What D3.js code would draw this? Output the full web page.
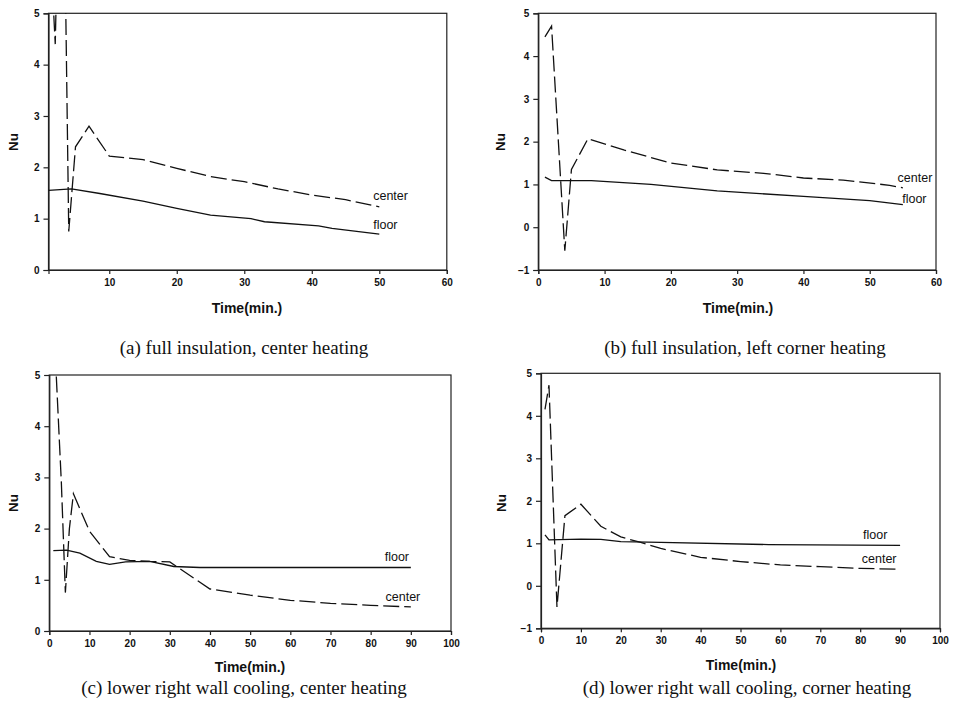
<!DOCTYPE html>
<html>
<head>
<meta charset="utf-8">
<script src="https://cdn.jsdelivr.net/npm/d3@7"></script>
<style>
    body { margin: 0; background: #fff; }
    svg { display: block; }
    .tick text { font-family: "Liberation Sans", Arial, sans-serif; font-weight: bold; font-size: 10px; fill: #111; }
    .tick line, .domain { stroke: #222; stroke-width: 1.2; }
</style>
</head>
<body>
<svg id="chart" width="954" height="710"></svg>
<script>
'use strict';

// (a) full insulation, center heating  -- [time(min), Nu]
const aFloor  = [[1,1.55],[4.4,1.58],[8.6,1.49],[15,1.34],[20,1.2],[25,1.07],[31,1.0],[33,0.94],[41,0.86],[43,0.81],[50,0.7]];
const aCenter = [[1,7],[2,4.4],[3,10.5],[4,0.75],[5,2.4],[7,2.8],[10,2.22],[15,2.15],[20,1.98],[25,1.82],[30,1.72],[35,1.58],[40,1.46],[45,1.37],[50,1.23]];

// (b) full insulation, left corner heating
const bFloor  = [[1,1.17],[2,1.09],[8,1.09],[17,1.0],[27,0.85],[40,0.72],[50,0.62],[55,0.53]];
const bCenter = [[1,4.45],[2,4.7],[4,-0.55],[5,1.35],[7.5,2.07],[13,1.8],[20,1.5],[27,1.34],[34,1.26],[40,1.15],[46,1.1],[53,0.98],[55,0.92]];

// (c) lower right wall cooling, center heating
const cFloor  = [[1,1.57],[4.3,1.58],[7.6,1.52],[11.7,1.36],[15,1.3],[19,1.35],[25,1.36],[31,1.26],[37.5,1.24],[90,1.24]];
const cCenter = [[1,6.2],[3,2.9],[4,0.75],[5,2.0],[6,2.68],[10,1.95],[15,1.45],[20,1.38],[25,1.36],[30,1.35],[40,0.82],[50,0.7],[60,0.6],[70,0.54],[80,0.5],[90,0.47]];

// (d) lower right wall cooling, corner heating
const dFloor  = [[1,1.2],[2,1.08],[10,1.1],[15,1.09],[20,1.04],[30,1.02],[57,0.97],[90,0.95]];
const dCenter = [[1,4.15],[2,4.72],[4,-0.5],[6,1.65],[10,1.92],[15,1.4],[20,1.15],[25,1.02],[30,0.88],[40,0.67],[50,0.57],[60,0.49],[70,0.45],[80,0.41],[90,0.39]];

// tick labels
const xTicks60  = [0, 10, 20, 30, 40, 50, 60];
const xTicks60a = [10, 20, 30, 40, 50, 60];
const xTicks100 = [0, 10, 20, 30, 40, 50, 60, 70, 80, 90, 100];
const yTicks5   = [0, 1, 2, 3, 4, 5];
const yTicks6   = [-1, 0, 1, 2, 3, 4, 5];

const captions = [
    '(a) full insulation, center heating',
    '(b) full insulation, left corner heating',
    '(c) lower right wall cooling, center heating',
    '(d) lower right wall cooling, corner heating'
];

// label anchors in data units [time, Nu]
const labelPos = [
    { center: [49.1, 1.36], floor: [49.1, 0.79] },
    { center: [54.2, 1.06], floor: [54.9, 0.57] },
    { center: [83.7, 0.59], floor: [83.5, 1.37] },
    { center: [80.4, 0.54], floor: [80.7, 1.10] }
];

// panel layout
const panels = [
    { left: 48.5, right: 446.8, top: 13.3, bottom: 270, xDom: [1, 60],   yDom: [0, 5],  xt: xTicks60a, yt: yTicks5, floor: aFloor, center: aCenter, nu: [14, 142],  time: [247, 313], cap: [244, 354] },
    { left: 538.3, right: 936, top: 13.3, bottom: 270, xDom: [0, 60],   yDom: [-1, 5], xt: xTicks60,  yt: yTicks6, floor: bFloor, center: bCenter, nu: [501, 142], time: [738, 313], cap: [745, 354] },
    { left: 49.3, right: 451,   top: 375,  bottom: 631, xDom: [0, 100],  yDom: [0, 5],  xt: xTicks100, yt: yTicks5, floor: cFloor, center: cCenter, nu: [14, 503],  time: [250, 672], cap: [244, 694] },
    { left: 541, right: 940,    top: 373.3, bottom: 628.3, xDom: [0, 100], yDom: [-1, 5], xt: xTicks100, yt: yTicks6, floor: dFloor, center: dCenter, nu: [502, 503], time: [741, 670], cap: [747, 694] }
];

const svg = d3.select('#chart');

panels.forEach((p, i) => {

    const x = d3.scaleLinear().domain(p.xDom).range([p.left, p.right]);
    const y = d3.scaleLinear().domain(p.yDom).range([p.bottom, p.top]);

    // clip lines to the plot box
    svg.append('clipPath').attr('id', 'clip' + i)
        .append('rect')
        .attr('x', p.left).attr('y', p.top)
        .attr('width', p.right - p.left).attr('height', p.bottom - p.top);

    // frame
    svg.append('rect')
        .attr('x', p.left).attr('y', p.top)
        .attr('width', p.right - p.left).attr('height', p.bottom - p.top)
        .attr('fill', 'none').attr('stroke', '#222').attr('stroke-width', 1.2);

    // axes
    svg.append('g')
        .attr('transform', `translate(0,${p.bottom})`)
        .call(d3.axisBottom(x).tickValues(p.xt).tickSize(4).tickPadding(5).tickFormat(d3.format('d')));

    svg.append('g')
        .attr('transform', `translate(${p.left},0)`)
        .call(d3.axisLeft(y).tickValues(p.yt).tickSize(5).tickPadding(4).tickFormat(d3.format('d')));

    const line = d3.line().x(d => x(d[0])).y(d => y(d[1]));
    const g = svg.append('g').attr('clip-path', `url(#clip${i})`);

    g.append('path').datum(p.floor)
        .attr('d', line)
        .attr('fill', 'none').attr('stroke', '#111').attr('stroke-width', 1.3);

    g.append('path').datum(p.center)
        .attr('d', line)
        .attr('fill', 'none').attr('stroke', '#111').attr('stroke-width', 1.3)
        .attr('stroke-dasharray', '16,5');

    // curve labels
    const lp = labelPos[i];
    ['center', 'floor'].forEach(k => {
        svg.append('text')
            .attr('x', x(lp[k][0])).attr('y', y(lp[k][1]))
            .attr('font-family', '"Liberation Sans", Arial, sans-serif')
            .attr('font-size', 12.5)
            .attr('fill', '#111')
            .text(k);
    });

    // axis titles
    svg.append('text')
        .attr('transform', `translate(${p.nu[0] + 4},${p.nu[1]}) rotate(-90)`)
        .attr('text-anchor', 'middle')
        .attr('font-family', '"Liberation Sans", Arial, sans-serif')
        .attr('font-weight', 'bold').attr('font-size', 13.5)
        .attr('fill', '#111')
        .text('Nu');

    svg.append('text')
        .attr('x', p.time[0]).attr('y', p.time[1])
        .attr('text-anchor', 'middle')
        .attr('font-family', '"Liberation Sans", Arial, sans-serif')
        .attr('font-weight', 'bold').attr('font-size', 14)
        .attr('fill', '#111')
        .text('Time(min.)');

    // caption
    svg.append('text')
        .attr('x', p.cap[0]).attr('y', p.cap[1])
        .attr('text-anchor', 'middle')
        .attr('font-family', '"Liberation Serif", "Times New Roman", serif')
        .attr('font-size', 19)
        .attr('fill', '#111')
        .text(captions[i]);
});
</script>
</body>
</html>
